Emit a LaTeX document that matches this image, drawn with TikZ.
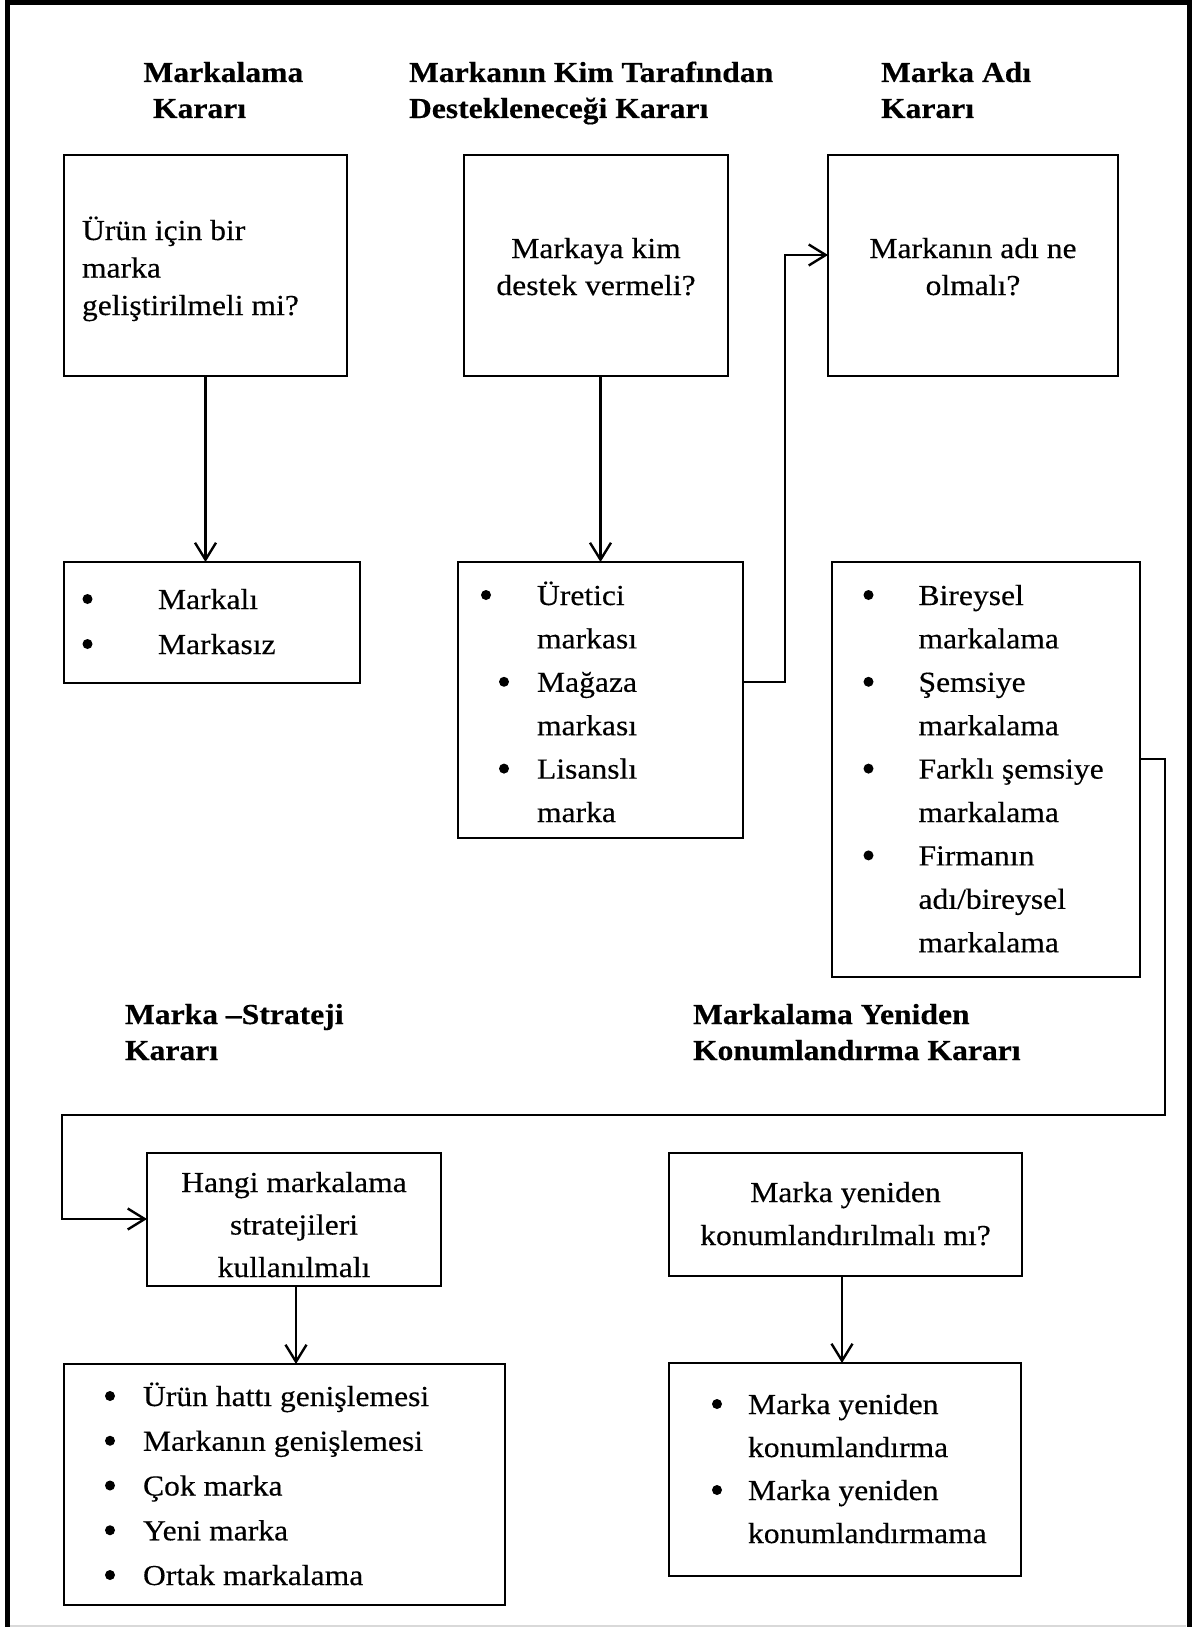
\documentclass[tikz,border=0pt]{standalone}
\usepackage{fontspec}
\setmainfont{Liberation Serif}[FakeStretch=1.09,FakeBold=0.35]
\usetikzlibrary{arrows.meta}
\newcommand\bodyfont{\fontsize{29}{35}\selectfont}
\newcommand\Lines[2]{\vtop{\baselineskip=#1pt\lineskiplimit=-100pt\lineskip=0pt\relax#2}}
\newcommand\Cl[1]{\hbox to 0pt{\hss#1\hss}}
\newcommand\Ll[1]{\hbox{#1}}
\begin{document}
\begin{tikzpicture}[x=1pt,y=-1pt,
  box/.style={draw,line width=2.6pt,inner sep=0pt,outer sep=0pt},
  conn/.style={line width=2.4pt},
  arr/.style={conn,-{Straight Barb[length=17pt,width=21pt]}},
  txt/.style={inner sep=0pt,outer sep=0pt,font=\bodyfont,anchor=base west},
  ctxt/.style={inner sep=0pt,outer sep=0pt,font=\bodyfont,anchor=base},
  hdr/.style={inner sep=0pt,outer sep=0pt,font=\bodyfont\bfseries,anchor=base west},
  bul/.style={circle,fill,inner sep=0pt,outer sep=0pt,minimum size=10pt,yshift=10pt},
]
\useasboundingbox (0,0) rectangle (1198,1627);
% outer frame
\draw[line width=5pt] (7.5,1627) -- (7.5,2.5) -- (1189,2.5) -- (1189,1627);
\draw[black!15,line width=1.5pt] (10,1626) -- (1186,1626);

% headings
\node[hdr] (h1) at (143.5,82) {\Lines{36}{\Ll{Markalama}\Ll{\kern9.5pt Kararı}}};
\node[hdr] (h2) at (409,82) {\Lines{36}{\Ll{Markanın Kim Tarafından}\Ll{Destekleneceği Kararı}}};
\node[hdr] (h3) at (881,82) {\Lines{36}{\Ll{Marka Adı}\Ll{Kararı}}};
\node[hdr] (h4) at (125,1024) {\Lines{36}{\Ll{Marka –Strateji}\Ll{Kararı}}};
\node[hdr] (h5) at (693,1024) {\Lines{36}{\Ll{Markalama Yeniden}\Ll{Konumlandırma Kararı}}};

% boxes
\node[box,minimum width=283pt,minimum height=221pt] (b1) at (205.5,265.5) {};
\node[box,minimum width=264pt,minimum height=221pt] (b2) at (596,265.5) {};
\node[box,minimum width=290pt,minimum height=221pt] (b3) at (973,265.5) {};
\node[box,minimum width=296pt,minimum height=121pt] (b4) at (212,622.5) {};
\node[box,minimum width=285pt,minimum height=276pt] (b5) at (600.5,700) {};
\node[box,minimum width=308pt,minimum height=415pt] (b6) at (986,769.5) {};
\node[box,minimum width=294pt,minimum height=133pt] (b7) at (294,1219.5) {};
\node[box,minimum width=441pt,minimum height=241pt] (b8) at (284.5,1484.5) {};
\node[box,minimum width=353pt,minimum height=123pt] (b9) at (845.5,1214.5) {};
\node[box,minimum width=352pt,minimum height=213pt] (b10) at (845,1469.5) {};

% box texts
\node[txt] (t1) at (82,240) {\Lines{37.5}{\Ll{Ürün için bir}\Ll{marka}\Ll{geliştirilmeli mi?}}};
\node[ctxt] (t2) at (596,258) {\Lines{37}{\Cl{Markaya kim}\Cl{destek vermeli?}}};
\node[ctxt] (t3) at (973,258) {\Lines{37}{\Cl{Markanın adı ne}\Cl{olmalı?}}};

\node[txt] (t4) at (158,609) {\Lines{45}{\Ll{Markalı}\Ll{Markasız}}};
\node[bul] (u1) at (87.5,609) {};
\node[bul] (u2) at (87.5,654) {};

\node[txt] (t5) at (537,605) {\Lines{43.4}{\Ll{Üretici}\Ll{markası}\Ll{Mağaza}\Ll{markası}\Ll{Lisanslı}\Ll{marka}}};
\node[bul] (u3) at (486,605) {};
\node[bul] (u4) at (504,691.8) {};
\node[bul] (u5) at (504,778.6) {};

\node[txt] (t6) at (918.5,605) {\Lines{43.4}{\Ll{Bireysel}\Ll{markalama}\Ll{Şemsiye}\Ll{markalama}\Ll{Farklı şemsiye}\Ll{markalama}\Ll{Firmanın}\Ll{adı/bireysel}\Ll{markalama}}};
\node[bul] (u6) at (868.5,605) {};
\node[bul] (u7) at (868.5,691.8) {};
\node[bul] (u8) at (868.5,778.6) {};
\node[bul] (u9) at (868.5,865.4) {};

\node[ctxt] (t7) at (294,1192) {\Lines{42.5}{\Cl{Hangi markalama}\Cl{stratejileri}\Cl{kullanılmalı}}};

\node[txt] (t8) at (143,1406) {\Lines{44.75}{\Ll{Ürün hattı genişlemesi}\Ll{Markanın genişlemesi}\Ll{Çok marka}\Ll{Yeni marka}\Ll{Ortak markalama}}};
\node[bul] (u10) at (110,1406) {};
\node[bul] (u11) at (110,1450.75) {};
\node[bul] (u12) at (110,1495.5) {};
\node[bul] (u13) at (110,1540.25) {};
\node[bul] (u14) at (110,1585) {};

\node[ctxt] (t9) at (845.5,1202) {\Lines{43}{\Cl{Marka yeniden}\Cl{konumlandırılmalı mı?}}};

\node[txt] (t10) at (748,1414) {\Lines{43}{\Ll{Marka yeniden}\Ll{konumlandırma}\Ll{Marka yeniden}\Ll{konumlandırmama}}};
\node[bul] (u15) at (717,1414) {};
\node[bul] (u16) at (717,1500) {};

% connectors
\draw[arr] (b1.south) -- (b1.south |- b4.north);
\draw[arr] (b5.north |- b2.south) -- (b5.north);
\coordinate (k1) at (785,682);
\coordinate (k2) at (785,255);
\draw[arr] (b5.east |- k1) -- (k1) -- (k2) -- (b3.west |- k2);
\coordinate (k3) at (1165,759);
\coordinate (k4) at (1165,1115);
\coordinate (k5) at (62,1115);
\coordinate (k6) at (62,1219);
\draw[arr] (b6.east |- k3) -- (k3) -- (k4) -- (k5) -- (k6) -- (b7.west |- k6);
\draw[arr] ([xshift=2pt]b7.south) -- ([xshift=2pt]b7.south |- b8.north);
\draw[arr] ([xshift=-3.5pt]b9.south) -- ([xshift=-3.5pt]b9.south |- b10.north);
\end{tikzpicture}
\end{document}
